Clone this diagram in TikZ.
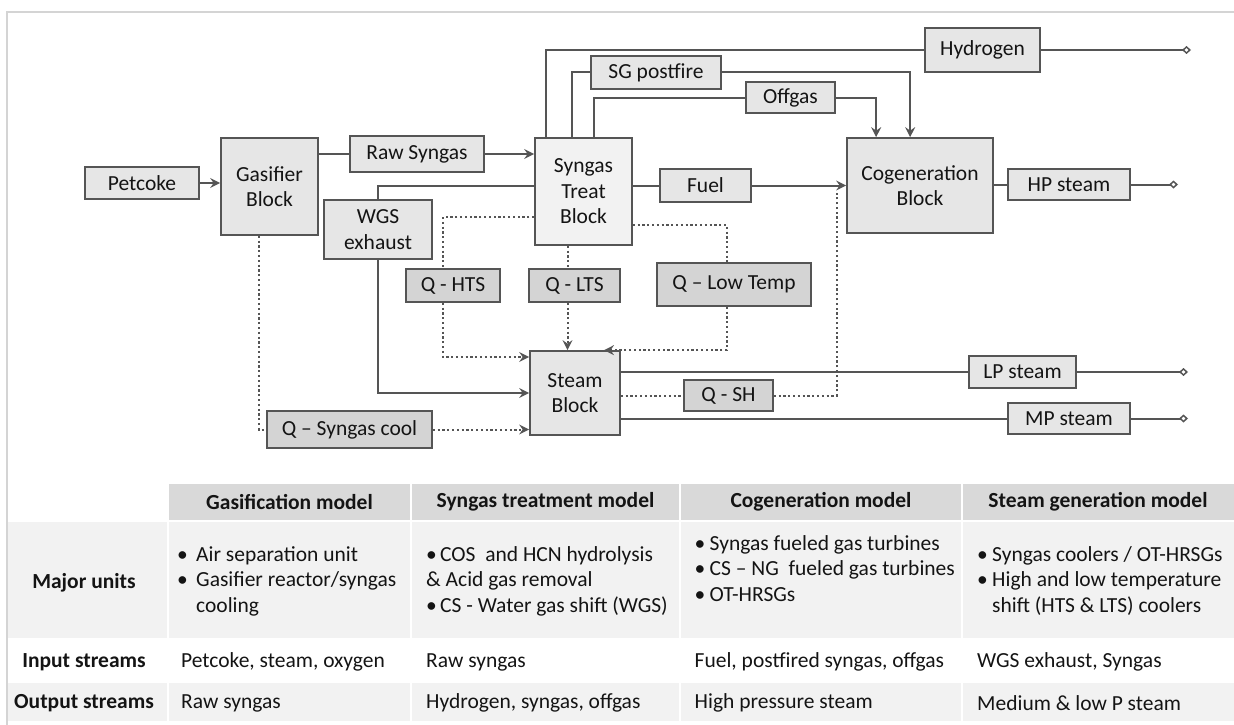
\documentclass[tikz,border=0pt]{standalone}
\usepackage{fontspec}
\setmainfont{Carlito}
\usetikzlibrary{arrows.meta}

\definecolor{boxline}{HTML}{555555}
\definecolor{blkfill}{HTML}{E6E6E6}
\definecolor{treatfill}{HTML}{F2F2F2}
\definecolor{qfill}{HTML}{D4D4D4}
\definecolor{hdrfill}{HTML}{D9D9D9}
\definecolor{rowfill}{HTML}{F2F2F2}
\definecolor{framegray}{HTML}{D4D4D4}
\definecolor{txt}{HTML}{141414}

\newcommand{\tbul}[1][15pt]{\makebox[#1][l]{\textbullet}}

\tikzset{
  block/.style={draw=boxline, fill=blkfill, line width=1.7pt, align=center,
    inner sep=0pt, text=txt, font=\fontsize{21.5}{25.5}\selectfont},
  heatbox/.style={block, fill=qfill},
  flow/.style={draw=boxline, line width=2pt},
  heat/.style={draw=boxline, line width=2pt, dash pattern=on 2.2pt off 2.6pt},
  arrowin/.style={-{Stealth[length=10pt,width=10pt,inset=3.5pt]}},
  outlet/.style={-{Diamond[open,length=9pt,width=8pt,line width=1.5pt]}},
  cell/.style={anchor=west, align=left, inner sep=0pt, text=txt,
    font=\fontsize{21.5}{25.5}\selectfont},
  hdr/.style={inner sep=0pt, text=txt, font=\fontsize{21.5}{25.5}\selectfont\bfseries},
}

\begin{document}
\begin{tikzpicture}[x=1pt,y=-1pt]
  \useasboundingbox (0,0) rectangle (1234,725);

  % process blocks
  \node[block, minimum width=114, minimum height=32] (petcoke) at (142,183) {Petcoke};
  \node[block, minimum width=97, minimum height=97] (gasifier) at (269.5,186.5) {Gasifier\\Block};
  \node[block, minimum width=134, minimum height=36] (rawsyn) at (417,154) {Raw Syngas};
  \node[block, minimum width=108, minimum height=59] (wgs) at (378,229.5) {WGS\\exhaust};
  \node[block, fill=treatfill, minimum width=97, minimum height=107] (treat) at (583.5,191.5) {Syngas\\Treat\\Block};
  \node[block, minimum width=130, minimum height=33] (sgpost) at (656,72.5) {SG postfire};
  \node[block, minimum width=89, minimum height=31] (offgas) at (790.5,97.5) {Offgas};
  \node[block, minimum width=115, minimum height=44] (hydrogen) at (982.5,50) {Hydrogen};
  \node[block, minimum width=91, minimum height=33] (fuel) at (705.5,185.5) {Fuel};
  \node[block, minimum width=146, minimum height=95] (cogen) at (920,185.5) {Cogeneration\\Block};
  \node[block, minimum width=122, minimum height=31] (hpst) at (1069,184.5) {HP steam};
  \node[block, minimum width=90, minimum height=84] (steam) at (575,393) {Steam\\Block};
  \node[block, minimum width=107, minimum height=32] (lpst) at (1022.5,372) {LP steam};
  \node[block, minimum width=122, minimum height=31] (mpst) at (1069,418.5) {MP steam};

  % heat duties
  \node[heatbox, minimum width=94, minimum height=33] (qhts) at (453,285.5) {Q - HTS};
  \node[heatbox, minimum width=91, minimum height=33] (qlts) at (574.5,285.5) {Q - LTS};
  \node[heatbox, minimum width=154, minimum height=43] (qlt) at (734,284.5) {Q -- Low Temp};
  \node[heatbox, minimum width=89, minimum height=31] (qsh) at (728.5,395.5) {Q - SH};
  \node[heatbox, minimum width=165, minimum height=37] (qsyn) at (349.5,429.5) {Q -- Syngas cool};

  \coordinate (h2out) at (1191,50);
  \coordinate (hpout) at (1178,184.5);
  \coordinate (lpout) at (1188,372);
  \coordinate (mpout) at (1188,418.5);
  \coordinate (shup) at (837,193);

  % material streams
  \draw[flow, arrowin] (petcoke.east) -- (petcoke.east -| gasifier.west);
  \draw[flow] (gasifier.east |- rawsyn) -- (rawsyn);
  \draw[flow, arrowin] (rawsyn) -- (rawsyn -| treat.west);
  \draw[flow] ([xshift=12]treat.north west) |- (hydrogen);
  \draw[flow, outlet] (hydrogen) -- (h2out);
  \draw[flow] ([xshift=38]treat.north west) |- (sgpost);
  \draw[flow, arrowin] (sgpost) -| ([xshift=64]cogen.north west);
  \draw[flow] ([xshift=60]treat.north west) |- (offgas);
  \draw[flow, arrowin] (offgas) -| ([xshift=30]cogen.north west);
  \draw[flow] (treat.west |- fuel) -| (wgs);
  \draw[flow, arrowin] (wgs) |- (steam);
  \draw[flow] (treat.east |- fuel) -- (fuel);
  \draw[flow, arrowin] (fuel) -- (fuel -| cogen.west);
  \draw[flow] (cogen.east |- hpst) -- (hpst);
  \draw[flow, outlet] (hpst) -- (hpout);
  \draw[flow] (steam.east |- lpst) -- (lpst);
  \draw[flow, outlet] (lpst) -- (lpout);
  \draw[flow] (steam.east |- mpst) -- (mpst);
  \draw[flow, outlet] (mpst) -- (mpout);

  % heat streams
  \draw[heat] ([xshift=-11]gasifier.south) |- (qsyn);
  \draw[heat, arrowin] (qsyn) -- (qsyn -| steam.west);
  \draw[heat] ([yshift=-25.5]treat.west) -| ([xshift=-10]qhts.north);
  \draw[heat, arrowin] ([xshift=-10]qhts.south) |- ([yshift=36]steam.west);
  \draw[heat] ([xshift=-16]treat.south) -- ([xshift=-16]treat.south |- qlts.north);
  \draw[heat, arrowin] ([xshift=-16]treat.south |- qlts.south) -- ([xshift=-16]treat.south |- steam.north);
  \draw[heat] ([yshift=-33.5]treat.east) -| ([xshift=-7]qlt.north);
  \draw[heat, arrowin] ([xshift=-7]qlt.south) |- ([xshift=29]steam.north);
  \draw[heat] (steam.east |- qsh) -- (qsh);
  \draw[heat] (qsh) -| (shup);

  % table
  \foreach \xa/\xb in {168/411, 411/680, 680/962, 962/1240}
    \filldraw[fill=hdrfill, draw=white, line width=2.5pt] (\xa,483) rectangle (\xb,521);
  \foreach \xa/\xb in {6/168, 168/411, 411/680, 680/962, 962/1240}{
    \filldraw[fill=rowfill, draw=white, line width=2.5pt] (\xa,521) rectangle (\xb,639);
    \filldraw[fill=rowfill, draw=white, line width=2.5pt] (\xa,682) rectangle (\xb,722);
  }

  \node[hdr] (hgas) at (289.5,502) {Gasification model};
  \node[hdr] (hsyn) at (545.5,502) {Syngas treatment model};
  \node[hdr] (hcog) at (821,502) {Cogeneration model};
  \node[hdr] (hstm) at (1098,502) {Steam generation model};

  \node[hdr] (lmajor) at (84,583) {Major units};
  \node[hdr] (linput) at (84,662) {Input streams};
  \node[hdr] (loutput) at (84,703) {Output streams};

  \node[cell] (gasmaj) at (177,581) {\tbul[19pt]Air separation unit\\\tbul[19pt]Gasifier reactor/syngas\\\hspace*{19pt}cooling};
  \node[cell] (synmaj) at (426,581) {\tbul[14pt]COS\ \ and HCN hydrolysis\\\& Acid gas removal\\\tbul[14pt]CS - Water gas shift (WGS)};
  \node[cell] (cogmaj) at (694.5,568.5) {\tbul Syngas fueled gas turbines\\\tbul CS -- NG\ \ fueled gas turbines\\\tbul OT-HRSGs};
  \node[cell] (stmmaj) at (977,581) {\tbul Syngas coolers / OT-HRSGs\\\tbul High and low temperature\\\hspace*{15pt}shift (HTS \& LTS) coolers};

  \node[cell] (gasin) at (181,662) {Petcoke, steam, oxygen};
  \node[cell] (synin) at (426,662) {Raw syngas};
  \node[cell] (cogin) at (694.5,662) {Fuel, postfired syngas, offgas};
  \node[cell] (stmin) at (977,662) {WGS exhaust, Syngas};

  \node[cell] (gasout) at (181,703) {Raw syngas};
  \node[cell] (synout) at (426,703) {Hydrogen, syngas, offgas};
  \node[cell] (cogout) at (694.5,703) {High pressure steam};
  \node[cell] (stmout) at (977,703) {Medium \& low P steam};

  % frame
  \draw[framegray, line width=1.5pt] (7,725) -- (7,12) -- (1234,12);
\end{tikzpicture}
\end{document}
